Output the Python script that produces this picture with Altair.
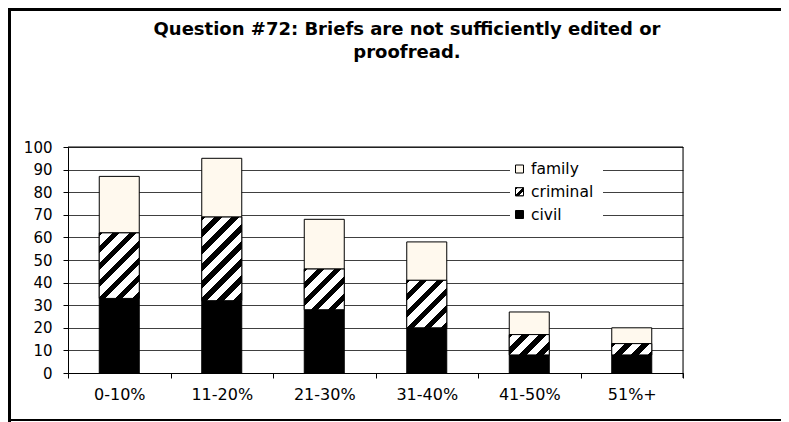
import altair as alt
import pandas as pd

# ---------------- data ----------------
categories = ["0-10%", "11-20%", "21-30%", "31-40%", "41-50%", "51%+"]
civil = [33, 32, 28, 20, 8, 8]
criminal = [29, 37, 18, 21, 9, 5]
family = [25, 26, 22, 17, 10, 7]
series_names = ["family", "criminal", "civil"]
y_ticks = [0, 10, 20, 30, 40, 50, 60, 70, 80, 90, 100]
title_lines = ["Question #72: Briefs are not sufficiently edited or", "proofread."]

# ---------------- styling ----------------
FONT = "DejaVu Sans"
CREAM = "#FFF9EE"
PLOT_W, PLOT_H = 615, 226
BAR_W = 40
PAD = {"left": 60, "top": 139, "right": 98, "bottom": 49}

rows = []
for cat, cv, cr, fa in zip(categories, civil, criminal, family):
    rows.append({"category": cat, "series": "civil", "y0": 0, "y1": cv, "value": cv})
    rows.append({"category": cat, "series": "criminal", "y0": cv, "y1": cv + cr, "value": cr})
    rows.append({"category": cat, "series": "family", "y0": cv + cr, "y1": cv + cr + fa, "value": fa})
df = pd.DataFrame(rows)
legend_df = pd.DataFrame({"series": series_names})


def hatch(w, h, period=17.0, frac=0.45, phase=4.0):
    """Diagonal '/' black-white stripes as a linear gradient in bbox units."""
    s = w + h
    d = w * w + h * h
    stops = []
    pos = -phase
    while pos < s:
        for lo, hi, col in [(pos, pos + frac * period, "black"),
                            (pos + frac * period, pos + period, "white")]:
            lo2, hi2 = max(lo, 0.0), min(hi, s)
            if hi2 > lo2:
                stops.append(alt.GradientStop(offset=round(lo2 / s, 5), color=col))
                stops.append(alt.GradientStop(offset=round(hi2 / s, 5), color=col))
        pos += period
    return alt.LinearGradient(gradient="linear", stops=stops,
                              x1=0, y1=0, x2=w * s / d, y2=h * s / d)


fill_enc = alt.Fill("series:N",
                    scale=alt.Scale(domain=series_names, range=[CREAM, "white", "black"]),
                    legend=None)

x_enc = alt.X("category:N", sort=categories,
              scale=alt.Scale(paddingInner=0, paddingOuter=0),
              axis=alt.Axis(title=None, labelAngle=0, tickBand="extent", grid=False,
                            domainColor="black", tickColor="black", tickSize=5,
                            labelPadding=8, labelFont=FONT, labelFontSize=16,
                            labelColor="black"))
y_enc = alt.Y("y0:Q", scale=alt.Scale(domain=[0, 100], nice=False, zero=True),
              axis=alt.Axis(title=None, values=y_ticks, grid=True, gridColor="#404040",
                            gridWidth=1, domainColor="black", tickColor="black",
                            tickSize=5, labelPadding=11, labelFont=FONT,
                            labelFontSize=15, labelColor="black"))

base = alt.Chart(df).mark_bar(size=BAR_W, stroke="black", strokeWidth=1).encode(
    x=x_enc, y=y_enc, y2="y1:Q", fill=fill_enc)

crim_df = df[df["series"] == "criminal"]
hatch_layers = []
for cat, cr in zip(categories, criminal):
    grad = hatch(BAR_W, cr * PLOT_H / 100.0)
    hatch_layers.append(
        alt.Chart(crim_df).transform_filter(alt.datum.category == cat)
        .mark_bar(size=BAR_W, fill=grad, stroke="black", strokeWidth=1)
        .encode(x=x_enc, y=y_enc, y2="y1:Q")
    )

bars = alt.layer(base, *hatch_layers)

# ---------------- legend (inside the plot, white box) ----------------
one = pd.DataFrame({"k": [0]})
leg_y = alt.Y("series:N", sort=series_names,
              scale=alt.Scale(type="point", domain=series_names, range=[22, 67.5], padding=0),
              axis=None)
leg_bg = alt.Chart(one).mark_rect(fill="white").encode(
    x=alt.value(442), x2=alt.value(535), y=alt.value(9), y2=alt.value(80))
leg_sym = alt.Chart(legend_df).mark_square(size=64, opacity=1, stroke="black",
                                            strokeWidth=1).encode(
    x=alt.value(451.5), y=leg_y, fill=fill_enc)
leg_hatch = alt.Chart(legend_df).transform_filter(alt.datum.series == "criminal").mark_square(
    size=64, opacity=1, stroke="black", strokeWidth=1,
    fill=hatch(8, 8, period=9.0, frac=0.45, phase=1.5)).encode(x=alt.value(451.5), y=leg_y)
leg_text = alt.Chart(legend_df).mark_text(align="left", baseline="middle", font=FONT,
                                          fontSize=15.5, color="black").encode(
    x=alt.value(463), y=leg_y, text="series:N")
legend = alt.layer(leg_bg, leg_sym, leg_hatch, leg_text)

# ---------------- plot border, outer frame and title ----------------
plot_right = alt.Chart(one).mark_rule(color="black", strokeWidth=1).encode(
    x=alt.value(PLOT_W), y=alt.value(0), y2=alt.value(PLOT_H + 5))
plot_top = alt.Chart(one).mark_rule(color="black", strokeWidth=1).encode(
    x=alt.value(0), x2=alt.value(PLOT_W), y=alt.value(0))
frame_left = alt.Chart(one).mark_rule(color="black", strokeWidth=4).encode(
    x=alt.value(-59), y=alt.value(-PAD["top"]), y2=alt.value(PLOT_H + PAD["bottom"]))
frame_top = alt.Chart(one).mark_rule(color="black", strokeWidth=3).encode(
    x=alt.value(-PAD["left"]), x2=alt.value(PLOT_W + PAD["right"] + 5), y=alt.value(-137.5))
frame_bottom = alt.Chart(one).mark_rule(color="black", strokeWidth=2).encode(
    x=alt.value(-PAD["left"]), x2=alt.value(PLOT_W + PAD["right"] + 5),
    y=alt.value(PLOT_H + PAD["bottom"] - 2))
title = alt.Chart(one).mark_text(text=title_lines, font=FONT, fontSize=18, fontWeight="bold",
                                 color="black", align="center", baseline="alphabetic",
                                 lineHeight=23).encode(
    x=alt.value(339), y=alt.value(-112))
frame = alt.layer(plot_right, plot_top, frame_left, frame_top, frame_bottom, title)

chart = alt.layer(bars, legend, frame).resolve_scale(y="independent").properties(
    width=PLOT_W,
    height=PLOT_H,
    padding=PAD,
    autosize=alt.AutoSizeParams(type="none"),
).configure_view(strokeWidth=0).configure(background="white")

chart.save("out.html", embed_options={"renderer": "svg", "actions": False})
